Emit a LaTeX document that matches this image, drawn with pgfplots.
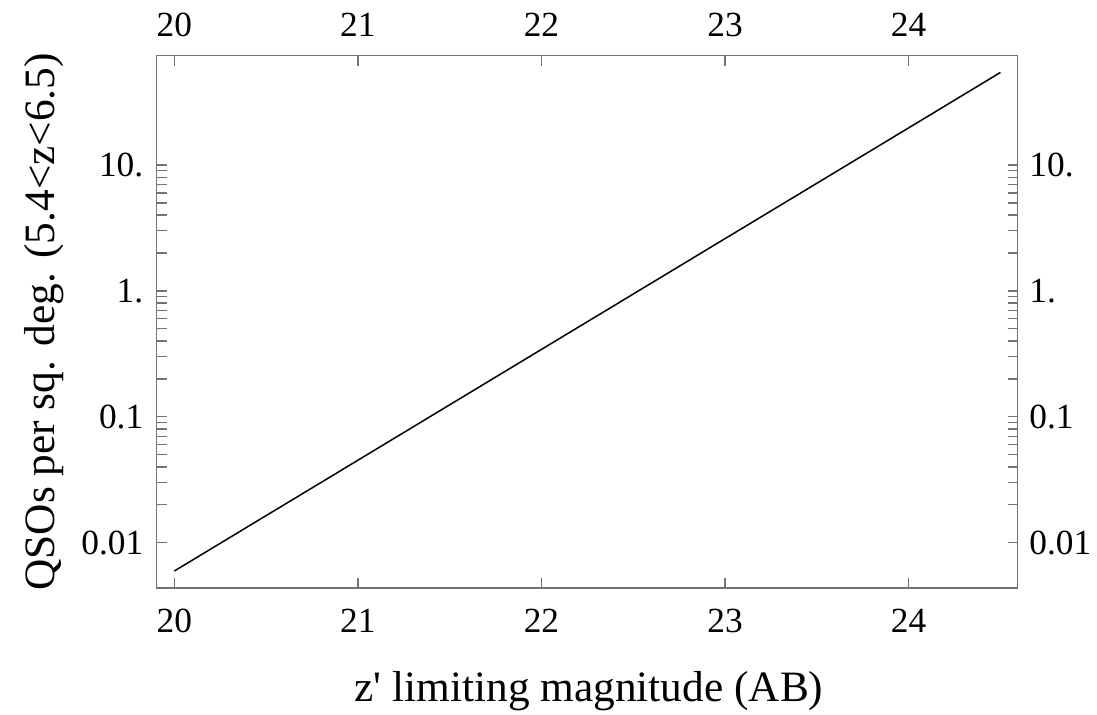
\documentclass[border=0pt]{standalone}
\usepackage{pgfplots}
\pgfplotsset{compat=1.18}
\usepackage{fontspec}
\setmainfont{Liberation Serif}

\pgfplotsset{/pgf/number format/assume math mode=true}

\begin{document}
\begin{tikzpicture}
% Cumulative QSO surface density vs. limiting magnitude
\begin{axis}[
  scale only axis,
  width=258.3pt, height=159.7pt,
  xmin=19.904, xmax=24.594,
  ymode=log, ymin=0.00437, ymax=73.8,
  xtick={20,21,22,23,24},
  ytick={0.01,0.1,1,10},
  yticklabels={0.01,0.1,1.,10.},
  tick align=inside,
  major tick length=3pt, minor tick length=3pt,
  axis line style={black!55, line width=0.4pt},
  tick style={black!55, line width=0.4pt},
  ticklabel style={font=\fontsize{10.6}{12}\selectfont, text=black},
  xticklabel style={anchor=base, yshift=-13.4pt},
  yticklabel style={xshift=-0.5pt},
  xlabel={z\textquotesingle{} limiting magnitude (AB)},
  ylabel={QSOs per sq. deg. (5.4<z<6.5)},
  label style={font=\fontsize{13}{15}\selectfont},
  xlabel style={at={(axis description cs:0.502,0)}, anchor=base, yshift=-33.9pt},
  ylabel style={at={(axis description cs:0,0.5)}, anchor=base, yshift=30.5pt},
]
\addplot[black, line width=0.45pt] coordinates {
  (20.0, 0.00596)
  (21.0, 0.0452)
  (22.0, 0.343)
  (23.0, 2.60)
  (24.0, 19.7)
  (24.5, 54.3)
};
\coordinate (SW) at (rel axis cs:0,0);
\coordinate (NE) at (rel axis cs:1,1);
\end{axis}
% tick labels along the top and right edges
\begin{axis}[
  scale only axis,
  width=258.3pt, height=159.7pt,
  xmin=19.904, xmax=24.594,
  ymode=log, ymin=0.00437, ymax=73.8,
  xtick={20,21,22,23,24},
  ytick={0.01,0.1,1,10},
  yticklabels={0.01,0.1,1.,10.},
  axis line style={draw=none},
  tick style={draw=none},
  ticklabel style={font=\fontsize{10.6}{12}\selectfont, text=black},
  xticklabel pos=right,
  yticklabel pos=right,
  xticklabel style={anchor=base, yshift=5.7pt},
]
\end{axis}
\pgfresetboundingbox
\path[use as bounding box] ([xshift=-47pt,yshift=-37.8pt]SW) rectangle ([xshift=23.8pt,yshift=16.7pt]NE);
\end{tikzpicture}
\end{document}
